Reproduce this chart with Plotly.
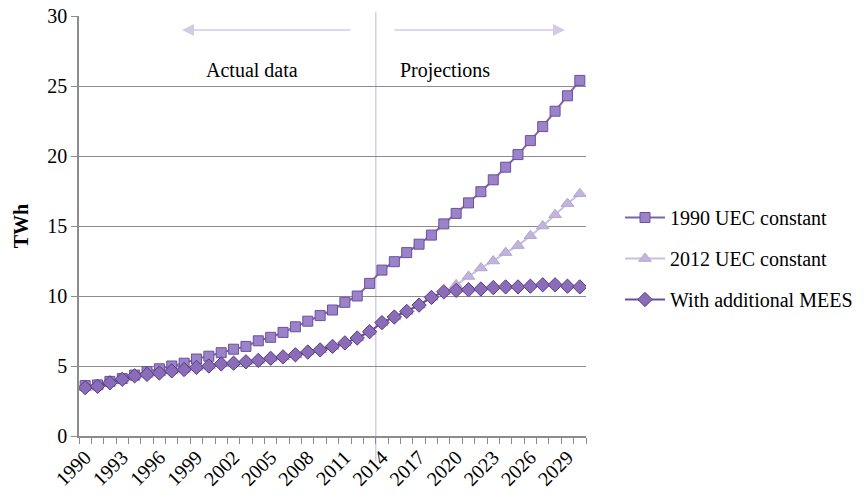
import plotly.graph_objects as go

years = list(range(1990, 2031))
uec_1990 = [3.6, 3.65, 3.9, 4.1, 4.35, 4.6, 4.8, 5.0, 5.2, 5.5,
            5.7, 5.95, 6.2, 6.4, 6.8, 7.05, 7.4, 7.8, 8.2, 8.6,
            9.0, 9.55, 10.0, 10.9, 11.85, 12.45, 13.1, 13.7, 14.35, 15.15,
            15.9, 16.65, 17.45, 18.3, 19.2, 20.1, 21.1, 22.1, 23.2, 24.3, 25.4]
mees = [3.45, 3.55, 3.8, 4.05, 4.3, 4.4, 4.5, 4.65, 4.75, 4.9,
        5.0, 5.15, 5.2, 5.3, 5.4, 5.55, 5.65, 5.8, 6.0, 6.15,
        6.4, 6.65, 7.0, 7.45, 8.1, 8.5, 8.9, 9.35, 9.9, 10.3,
        10.4, 10.45, 10.5, 10.6, 10.65, 10.65, 10.7, 10.8, 10.8, 10.7, 10.65]
uec_2012 = mees[:30] + [10.8, 11.4, 12.0, 12.5, 13.1, 13.6, 14.3, 15.0, 15.8, 16.6, 17.3]
tick_years = years[::3]
tick_labels = [str(y) for y in tick_years]

FONT = "Liberation Serif, Times New Roman, Times, serif"
GRID = "#8c8c8c"

fig = go.Figure()
fig.add_trace(go.Scatter(
    x=years, y=uec_1990, name="1990 UEC constant", mode="lines+markers",
    line=dict(color="#8064a2", width=2),
    marker=dict(symbol="square", size=10, color="#9b83c9",
                line=dict(color="#6c509c", width=1)),
    legendgroup="a"))
fig.add_trace(go.Scatter(
    x=years, y=uec_2012, name="2012 UEC constant", mode="lines+markers",
    line=dict(color="#c9bfe0", width=2),
    marker=dict(symbol="triangle-up", size=11, color="#c2b5dc",
                line=dict(color="#b3a5d2", width=1)),
    legendgroup="b"))
fig.add_trace(go.Scatter(
    x=years, y=mees, name="With additional MEES", mode="lines+markers",
    line=dict(color="#6b4f94", width=2),
    marker=dict(symbol="diamond", size=11, color="#8a6cb8",
                line=dict(color="#563c80", width=1)),
    legendgroup="c"))

# divider between actual data and projections
fig.add_shape(type="line", xref="x", yref="paper", x0=2013.5, x1=2013.5,
              y0=-0.06, y1=1.01, line=dict(color="#d5cde7", width=1.5), layer="below")

def px_x(p):
    return (p - 79) / 507

def px_y(p):
    return (436 - p) / 420

for head, tail in [(182, 352), (565, 393)]:
    fig.add_annotation(xref="x domain", yref="y domain", x=px_x(head), y=px_y(30),
                       axref="x domain", ayref="y domain", ax=px_x(tail), ay=px_y(30),
                       text="", showarrow=True, arrowhead=2, arrowsize=1.6, arrowwidth=1.5,
                       arrowcolor="#d3cbe6")
fig.add_annotation(xref="paper", yref="paper", x=px_x(252), y=px_y(57),
                   text="Actual data", showarrow=False,
                   font=dict(family=FONT, size=20, color="#000"))
fig.add_annotation(xref="paper", yref="paper", x=px_x(492), y=px_y(57),
                   text="Projections", showarrow=False,
                   font=dict(family=FONT, size=20, color="#000"))

fig.update_layout(
    width=866, height=498,
    margin=dict(l=71, r=288, t=8, b=70, autoexpand=False),
    paper_bgcolor="white", plot_bgcolor="white",
    font=dict(family=FONT, size=20, color="#000"),
    showlegend=True,
    legend=dict(x=px_x(620), y=px_y(198), xanchor="left", yanchor="top",
                traceorder="grouped", tracegroupgap=12, itemwidth=40,
                font=dict(family=FONT, size=20, color="#000"),
                bgcolor="rgba(0,0,0,0)"),
    xaxis=dict(type="linear", range=[1989.5, 2030.5], automargin=False,
               tickvals=tick_years, ticktext=tick_labels, tickangle=-45,
               ticks="", showgrid=False, zeroline=False, ticklabeloverflow="allow",
               showline=True, linecolor=GRID, linewidth=1.5,
               minor=dict(tick0=1989.5, dtick=1, ticks="outside", ticklen=6,
                          tickcolor=GRID, tickwidth=1, showgrid=False),
               tickfont=dict(family=FONT, size=20, color="#000")),
    yaxis=dict(range=[0, 30], dtick=5, tick0=0, automargin=False,
               ticklabeloverflow="allow",
               showgrid=True, gridcolor=GRID, gridwidth=1.3,
               zeroline=False, showline=True, linecolor=GRID, linewidth=1.5,
               ticks="outside", ticklen=6, tickcolor=GRID,
               tickfont=dict(family=FONT, size=20, color="#000"),
               title=dict(text="<b>TWh</b>", font=dict(family=FONT, size=20, color="#000"),
                          standoff=13)),
)

fig.write_html("out.html")
